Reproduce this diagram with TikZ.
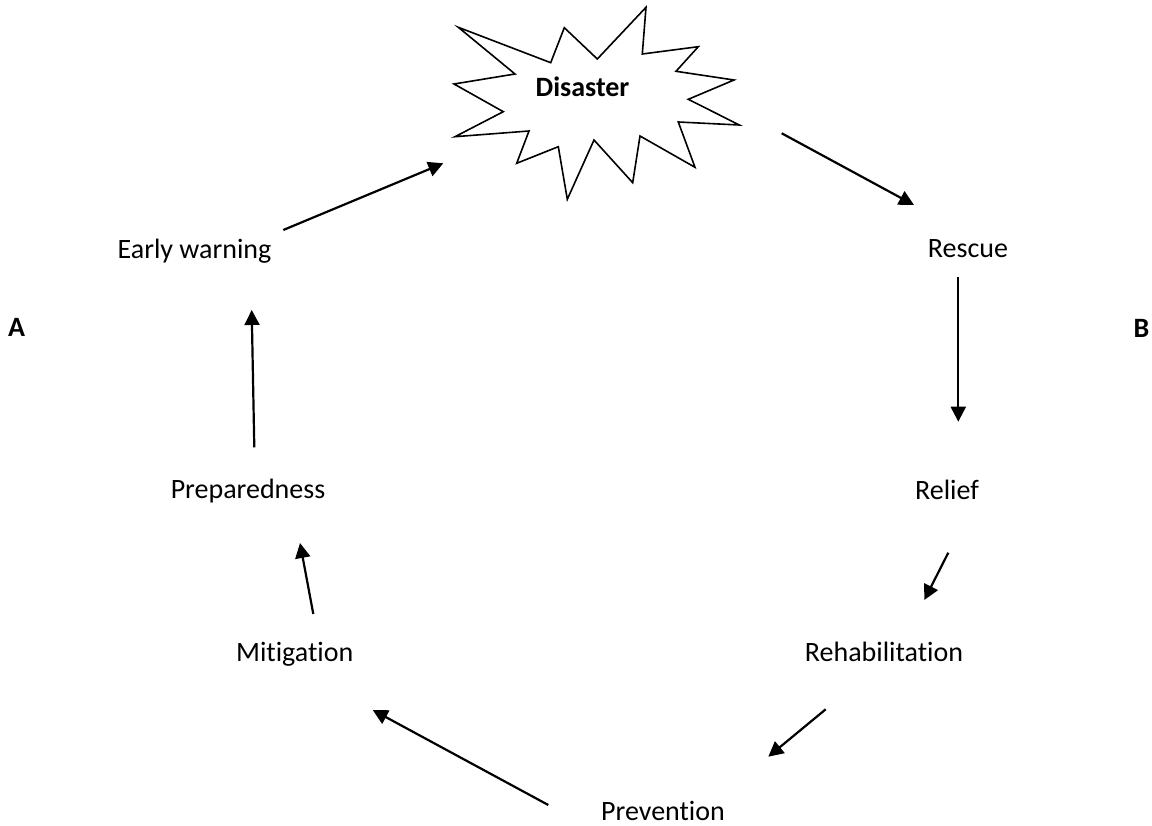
\documentclass[tikz,border=0pt]{standalone}
\usepackage{fontspec}
\setmainfont{Carlito}[Ligatures={NoCommon}]
\usetikzlibrary{arrows.meta}
\begin{document}
\begin{tikzpicture}[x=1pt,y=-1pt,
  lbl/.style={anchor=base,inner sep=0pt,font=\fontsize{28}{34}\selectfont},
  blbl/.style={lbl,font=\fontsize{28}{34}\selectfont\bfseries},
  arr/.style={line width=2.2pt,-{Triangle[length=15pt,width=15pt]}},
  burst/.style={line width=1.6pt,line join=miter}]
\useasboundingbox[fill=white] (0,0) rectangle (1152,826);
% starburst
\draw[burst] (458.3,27.3) -- (550.7,62.7) -- (564.3,27.7) -- (597.3,59) -- (646,7.3) -- (642.3,54)
  -- (698.3,46.7) -- (676,71.3) -- (734,80) -- (688.3,99.3) -- (739.3,125) -- (678.3,122)
  -- (695,167.3) -- (640,136) -- (632.7,182.7) -- (594,140) -- (567.3,199.3) -- (558.3,146.7)
  -- (516.7,163.3) -- (529,131) -- (455,136.7) -- (503.3,111.7) -- (454,84) -- (515,74) -- cycle;
\node[blbl] (dis) at (582.5,97) {Disaster};
\node[lbl] (ew) at (194.5,259) {Early warning};
\node[lbl] (res) at (968,258) {Rescue};
\node[blbl] (a) at (16.7,337) {A};
\node[blbl] (b) at (1141.5,338) {B};
\node[lbl] (prep) at (248,498) {Preparedness};
\node[lbl] (rel) at (947,499) {Relief};
\node[lbl] (mit) at (294.7,661) {Mitigation};
\node[lbl] (reh) at (884,661.5) {Rehabilitation};
\node[lbl] (prev) at (663,820) {Prevention};
% connector ends
\coordinate (ew-o) at (283.3,230);   \coordinate (dis-i) at (443.3,163.3);
\coordinate (dis-o) at (781.7,133.3); \coordinate (res-i) at (914,205);
\coordinate (res-o) at (958.3,277);   \coordinate (rel-i) at (958.3,421.7);
\coordinate (rel-o) at (948.3,552.7); \coordinate (reh-i) at (924.3,600);
\coordinate (reh-o) at (825.7,709.3); \coordinate (prev-i) at (768.3,756.7);
\coordinate (prev-o) at (548.3,805);  \coordinate (mit-i) at (372.7,710);
\coordinate (mit-o) at (313.3,614);   \coordinate (prep-i) at (300,543);
\coordinate (prep-o) at (254.3,447.3); \coordinate (ew-i) at (251.7,310);
\draw[arr] (ew-o) -- (dis-i);
\draw[arr] (dis-o) -- (res-i);
\draw[arr] (res-o) -- (rel-i);
\draw[arr] (rel-o) -- (reh-i);
\draw[arr] (reh-o) -- (prev-i);
\draw[arr] (prev-o) -- (mit-i);
\draw[arr] (mit-o) -- (prep-i);
\draw[arr] (prep-o) -- (ew-i);
\end{tikzpicture}
\end{document}
